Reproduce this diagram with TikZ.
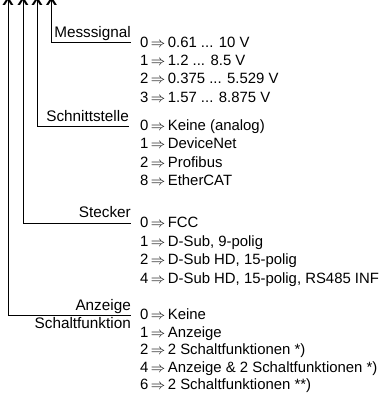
\documentclass[tikz,border=0pt]{standalone}
\usepackage{fontspec}
\setmainfont{Liberation Sans}
\begin{document}
\begin{tikzpicture}[x=1pt,y=-1pt,
  keytxt/.style={font=\fontsize{15.3}{18}\selectfont, inner sep=0pt},
  valtxt/.style={font=\fontsize{14.9}{18}\selectfont, inner sep=0pt},
  key/.style={keytxt, anchor=base east},
  val/.style={valtxt, anchor=base west},
  code/.style={font=\bfseries\fontsize{17}{19}\selectfont, inner sep=0pt, anchor=base},
  branch/.style={draw=black, line width=0.8pt}]
\useasboundingbox (0,0) rectangle (391,394);
\clip (0,0) rectangle (391,394);

% order code characters (upper part lies outside the frame)
\node[code] (x1) at (8,5) {X};
\node[code] (x2) at (23,5) {X};
\node[code] (x3) at (37,5) {X};
\node[code] (x4) at (51.5,5) {X};

% branch corners and ends
\coordinate (c1) at (8,315);    \coordinate (e1) at (131,315);
\coordinate (c2) at (23,223);   \coordinate (e2) at (131,223);
\coordinate (c3) at (37,126);   \coordinate (e3) at (129,126);
\coordinate (c4) at (51.5,42);  \coordinate (e4) at (131,42);

\draw[branch] (x1.south |- 0,0) -- (c1) -- (e1);
\draw[branch] (x2.south |- 0,0) -- (c2) -- (e2);
\draw[branch] (x3.south |- 0,0) -- (c3) -- (e3);
\draw[branch] (x4.south |- 0,0) -- (c4) -- (e4);

% group labels
\node[key] (k4) at (131,37.5) {Messsignal};
\node[key] (k3) at (129,121.5) {Schnittstelle};
\node[key] (k2) at (131,217.5) {Stecker};
\node[key] (k1a) at (131,310) {Anzeige};
\node[key] (k1b) at (131,328.5) {Schaltfunktion};

% Messsignal
\node[val] (m0) at (140,47)    {0\,$\Rightarrow$\,0.61 ... 10 V};
\node[val] (m1) at (140,65.3)  {1\,$\Rightarrow$\,1.2 ... 8.5 V};
\node[val] (m2) at (140,83.6)  {2\,$\Rightarrow$\,0.375 ... 5.529 V};
\node[val] (m3) at (140,102)   {3\,$\Rightarrow$\,1.57 ... 8.875 V};

% Schnittstelle
\node[val] (s0) at (140,130.5) {0\,$\Rightarrow$\,Keine (analog)};
\node[val] (s1) at (140,148.8) {1\,$\Rightarrow$\,DeviceNet};
\node[val] (s2) at (140,167.1) {2\,$\Rightarrow$\,Profibus};
\node[val] (s8) at (140,185.4) {8\,$\Rightarrow$\,EtherCAT};

% Stecker
\node[val] (p0) at (140,227.5) {0\,$\Rightarrow$\,FCC};
\node[val] (p1) at (140,246)   {1\,$\Rightarrow$\,D-Sub, 9-polig};
\node[val] (p2) at (140,264.5) {2\,$\Rightarrow$\,D-Sub HD, 15-polig};
\node[val] (p4) at (140,283)   {4\,$\Rightarrow$\,D-Sub HD, 15-polig, RS485 INF};

% Anzeige / Schaltfunktion
\node[val] (a0) at (140,319.5) {0\,$\Rightarrow$\,Keine};
\node[val] (a1) at (140,337)   {1\,$\Rightarrow$\,Anzeige};
\node[val] (a2) at (140,354.5) {2\,$\Rightarrow$\,2 Schaltfunktionen *)};
\node[val] (a4) at (140,372)   {4\,$\Rightarrow$\,Anzeige \& 2 Schaltfunktionen *)};
\node[val] (a6) at (140,389)   {6\,$\Rightarrow$\,2 Schaltfunktionen **)};
\end{tikzpicture}
\end{document}
